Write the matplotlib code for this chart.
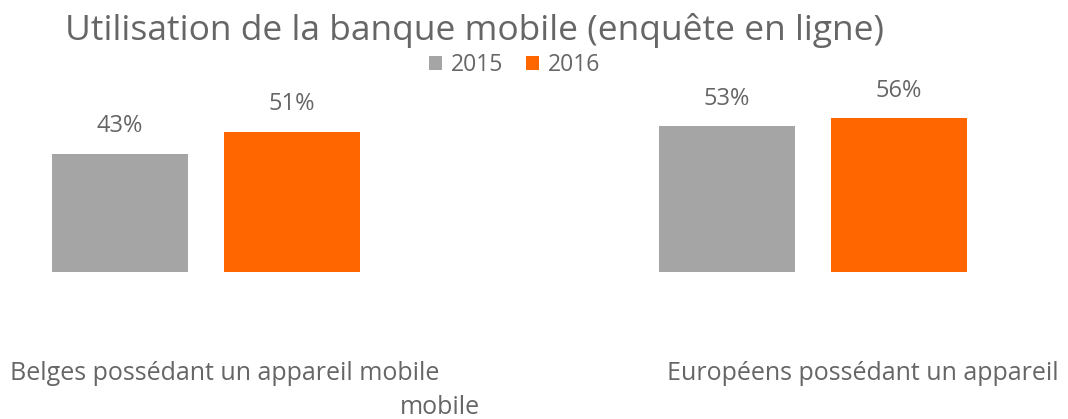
import matplotlib.pyplot as plt
import numpy as np

plt.rcParams['font.family'] = ['Open Sans', 'DejaVu Sans']

categories = ['Belges possédant un appareil mobile', 'Européens possédant un appareil']
years = ['2015', '2016']
values_2015 = [43, 53]
values_2016 = [51, 56]
colors = ['#A5A5A5', '#FF6600']
txt_color = '#666666'

W, H = 1068, 419
fig = plt.figure(figsize=(W / 100, H / 100), dpi=100)
# plot area: baseline at y=272px, 2.75 px per percent
ax = fig.add_axes([0, (H - 272) / H, 1, 165 / H])
ax.set_ylim(0, 60)
ax.set_xlim(-206 / 607, (W - 206) / 607)
ax.axis('off')

x = np.arange(len(categories))
width = 0.224
offset = 0.1417
b1 = ax.bar(x - offset, values_2015, width, color=colors[0], label=years[0])
b2 = ax.bar(x + offset, values_2016, width, color=colors[1], label=years[1])
for bars in (b1, b2):
    ax.bar_label(bars, labels=[f'{v}%' for v in bars.datavalues], padding=11,
                 fontsize=17, color=txt_color)

fig.text(65 / W, 1 - 31 / H, 'Utilisation de la banque mobile (enquête en ligne)',
         fontsize=25.5, color=txt_color, va='center', ha='left')
fig.legend(loc='center', bbox_to_anchor=(515 / W, 1 - 65 / H), ncol=2, frameon=False,
           fontsize=16.5, labelcolor=txt_color, handlelength=0.55, handleheight=0.55,
           handletextpad=0.4, columnspacing=1.0)

fig.text(10 / W, 1 - 373 / H, 'Belges possédant un appareil mobile',
         fontsize=18, color=txt_color, va='center', ha='left')
fig.text(440 / W, 1 - 407 / H, 'mobile',
         fontsize=18, color=txt_color, va='center', ha='center')
fig.text(667 / W, 1 - 373 / H, 'Européens possédant un appareil',
         fontsize=18, color=txt_color, va='center', ha='left')

fig.savefig('out.png', dpi=100)
